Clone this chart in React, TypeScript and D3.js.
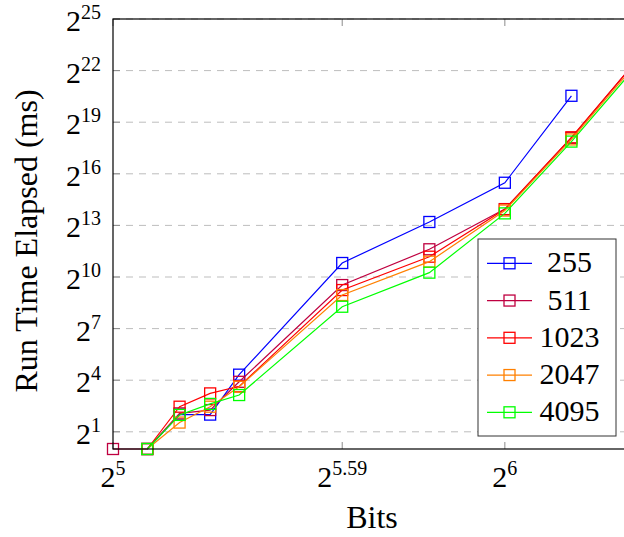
import React, { useEffect, useRef } from "react";
import * as d3 from "d3";

// x positions (bits) and run times in ms, null = no measurement
const bits = [32, 34, 36, 38, 40, 48, 56, 64, 72, 80];
const keySizes = ["255", "511", "1023", "2047", "4095"];
const seriesColors = ["#0000ff", "#bf0040", "#ff0000", "#ff8000", "#00ff00"];

const ms255 = [null, 1, 4, 4, 20, 1800, 9400, 45700, 1520000, null];
const ms511 = [1, 1, 4.2, 4.8, 15, 740, 3130, 15800, 280000, 4800000];
const ms1023 = [null, 1, 5.5, 9.4, 12.5, 605, 2320, 15700, 285000, 4800000];
const ms2047 = [null, 1, 2.9, 5.5, 12.3, 495, 1900, 14900, 262000, 4350000];
const ms4095 = [null, 1, 3.95, 6.15, 8.8, 309, 1220, 13300, 240000, 3900000];

const xTicks = [32, 48, 64];
const xTickExps = ["5", "5.59", "6"];
const yTickExps = [1, 4, 7, 10, 13, 16, 19, 22, 25];

const FONT = "Liberation Serif, Tinos, Times New Roman, DejaVu Serif, serif";

const RunTimeChart: React.FC = () => {
  const chartRef = useRef<SVGSVGElement | null>(null);
  const width = 624;
  const height = 537;

  useEffect(() => {
    if (!chartRef.current) return;
    const svg = d3.select(chartRef.current);
    svg.selectAll("*").remove();

    const left = 113;
    const right = 631; // axis box runs a bit past the window
    const top = 19;
    const bottom = 449;

    const x = d3.scaleLog().base(2).domain([32, 80]).range([left, right]);
    const y = d3.scaleLog().base(2).domain([1, 2 ** 25]).range([bottom, top]);

    const allSeries = [ms255, ms511, ms1023, ms2047, ms4095].map((vals, i) => ({
      name: keySizes[i],
      color: seriesColors[i],
      points: bits
        .map((b, j) => ({ b, v: vals[j] }))
        .filter((p) => p.v !== null) as { b: number; v: number }[],
    }));

    // grid lines
    svg
      .append("g")
      .selectAll("line")
      .data(yTickExps)
      .enter()
      .append("line")
      .attr("x1", left)
      .attr("x2", right)
      .attr("y1", (e) => y(2 ** e))
      .attr("y2", (e) => y(2 ** e))
      .attr("stroke", "#bdbdbd")
      .attr("stroke-width", 1)
      .attr("stroke-dasharray", "7 6");

    // tick marks
    const ticks = svg.append("g").attr("stroke", "#8c8c8c").attr("stroke-width", 1);
    yTickExps.forEach((e) => {
      ticks.append("line").attr("x1", left).attr("x2", left + 7).attr("y1", y(2 ** e)).attr("y2", y(2 ** e));
    });
    xTicks.forEach((t) => {
      ticks.append("line").attr("x1", x(t)).attr("x2", x(t)).attr("y1", bottom).attr("y2", bottom - 7);
      ticks.append("line").attr("x1", x(t)).attr("x2", x(t)).attr("y1", top).attr("y2", top + 7);
    });

    // series
    const line = d3
      .line<{ b: number; v: number }>()
      .x((d) => x(d.b))
      .y((d) => y(d.v));

    allSeries.forEach((s) => {
      const g = svg.append("g");
      g.append("path")
        .attr("d", line(s.points) || "")
        .attr("fill", "none")
        .attr("stroke", s.color)
        .attr("stroke-width", 1.2);
      g.selectAll("rect")
        .data(s.points)
        .enter()
        .append("rect")
        .attr("x", (d) => x(d.b) - 5.5)
        .attr("y", (d) => y(d.v) - 5.5)
        .attr("width", 11)
        .attr("height", 11)
        .attr("fill", "none")
        .attr("stroke", s.color)
        .attr("stroke-width", 1.3);
    });

    // axis box
    svg
      .append("rect")
      .attr("x", left)
      .attr("y", top)
      .attr("width", right - left)
      .attr("height", bottom - top)
      .attr("fill", "none")
      .attr("stroke", "#000")
      .attr("stroke-width", 1.2);

    // y tick labels
    yTickExps.forEach((e) => {
      const t = svg
        .append("text")
        .attr("x", 101)
        .attr("y", y(2 ** e) + 12)
        .attr("text-anchor", "end")
        .style("font-family", FONT)
        .attr("fill", "#000");
      t.append("tspan").attr("font-size", 30).text("2");
      t.append("tspan").attr("font-size", 20).attr("dy", -12).text(String(e));
    });

    // x tick labels
    xTicks.forEach((b, i) => {
      const t = svg
        .append("text")
        .attr("x", x(b))
        .attr("y", bottom + 38)
        .attr("text-anchor", "middle")
        .style("font-family", FONT)
        .attr("fill", "#000");
      t.append("tspan").attr("font-size", 30).text("2");
      t.append("tspan").attr("font-size", 20).attr("dy", -12).text(xTickExps[i]);
    });

    // axis labels
    svg
      .append("text")
      .attr("x", (left + right) / 2)
      .attr("y", 528)
      .attr("text-anchor", "middle")
      .style("font-family", FONT)
      .attr("font-size", 32)
      .text("Bits");

    svg
      .append("text")
      .attr("transform", "rotate(-90)")
      .attr("x", -241)
      .attr("y", 37)
      .attr("text-anchor", "middle")
      .style("font-family", FONT)
      .attr("font-size", 32)
      .text("Run Time Elapsed (ms)");

    // legend
    const legend = svg.append("g");
    legend
      .append("rect")
      .attr("x", 478)
      .attr("y", 239)
      .attr("width", 138)
      .attr("height", 197)
      .attr("fill", "#fff")
      .attr("stroke", "#333")
      .attr("stroke-width", 1);

    allSeries.forEach((s, i) => {
      const cy = 263.3 + i * 37.25;
      legend.append("line").attr("x1", 487).attr("x2", 532).attr("y1", cy).attr("y2", cy)
        .attr("stroke", s.color).attr("stroke-width", 1.2);
      legend.append("rect").attr("x", 509.5 - 5.5).attr("y", cy - 5.5).attr("width", 11).attr("height", 11)
        .attr("fill", "none").attr("stroke", s.color).attr("stroke-width", 1.3);
      legend.append("text")
        .attr("x", 569.5)
        .attr("y", cy + 9)
        .attr("text-anchor", "middle")
        .style("font-family", FONT)
        .attr("font-size", 30)
        .text(s.name);
    });
  }, []);

  return (
    <svg
      ref={chartRef}
      width={width}
      height={height}
      style={{ position: "absolute", left: 0, top: 0, background: "#fff" }}
    />
  );
};

export default function App() {
  return <RunTimeChart />;
}
